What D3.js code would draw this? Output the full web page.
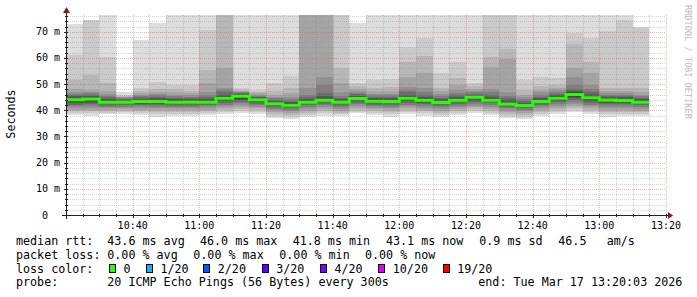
<!DOCTYPE html>
<html>
<head>
<meta charset="utf-8">
<script src="https://cdn.jsdelivr.net/npm/d3@7"></script>
<style>
  body { margin: 0; background: #fff; }
  svg { display: block; }
  text { font-family: "DejaVu Sans Mono", monospace; fill: #000; white-space: pre; }
</style>
</head>
<body>
<svg></svg>
<script>
// Time range (3 hours, 5 minute steps)
const startTime = new Date(2026, 2, 17, 10, 20);
const endTime = new Date(2026, 2, 17, 13, 20);

// Median rtt per 5 min step (ms)
const median = [44.0, 44.3, 43.1, 43.1, 43.4, 43.4, 43.1, 43.1, 43.1, 44.6,
  45.4, 44.0, 42.5, 41.9, 43.1, 43.8, 43.1, 44.5, 43.5, 43.4,
  44.6, 43.8, 43.0, 43.8, 45.0, 43.8, 42.4, 41.8, 43.4, 44.6,
  46.0, 44.8, 43.9, 43.7, 43.1];

// Sorted ping times per step (20 pings, ms)
const pings = [
  [38.2,38.9,39.6,40.3,40.9,41.5,42.1,42.7,43.2,43.7,44.3,44.8,45.3,45.9,46.4,47.0,48.2,51.4,61.0,72.9],
  [38.0,38.8,39.6,40.3,41.0,41.7,42.3,42.9,43.5,44.0,44.6,45.0,45.5,46.0,46.5,47.1,47.7,53.5,74.4,74.6],
  [38.4,39.0,39.6,40.2,40.8,41.3,41.8,42.3,42.7,42.9,43.3,43.8,44.3,44.9,45.5,46.2,47.5,50.4,60.3,78.0],
  [38.6,39.2,39.8,40.4,40.9,41.4,41.9,42.3,42.7,42.9,43.3,43.6,44.0,44.3,44.6,44.9,45.2,45.6,46.0,46.8],
  [38.3,39.0,39.7,40.3,40.9,41.5,42.0,42.5,42.9,43.2,43.6,44.0,44.5,45.0,45.5,46.0,46.6,47.3,48.4,66.8],
  [37.6,38.5,39.3,40.1,40.8,41.4,42.0,42.5,42.9,43.2,43.6,44.1,44.6,45.1,45.7,46.3,47.0,48.0,50.9,73.3],
  [38.0,38.7,39.4,40.1,40.7,41.3,41.8,42.3,42.7,42.9,43.3,43.8,44.3,44.8,45.4,46.0,46.8,48.0,49.5,78.0],
  [37.8,38.6,39.4,40.1,40.7,41.3,41.8,42.3,42.7,42.9,43.3,43.7,44.2,44.7,45.2,45.8,46.5,47.5,49.5,78.0],
  [38.2,38.9,39.6,40.3,40.9,41.5,42.0,42.4,42.8,42.9,43.3,43.8,44.4,45.0,45.7,47.0,50.4,55.4,70.6,78.0],
  [38.5,39.3,40.1,40.8,41.5,42.2,42.8,43.4,43.9,44.3,44.9,45.4,46.0,46.8,47.7,48.5,56.0,78.0,79.0,80.0],
  [39.0,39.8,40.6,41.3,42.0,42.7,43.3,43.9,44.5,45.1,45.7,46.0,46.3,46.6,46.9,47.1,47.4,47.8,48.5,78.0],
  [38.6,39.3,40.0,40.7,41.3,41.9,42.5,43.0,43.5,43.8,44.3,44.6,44.9,45.2,45.6,46.0,46.5,47.0,47.7,78.0],
  [37.2,37.9,38.6,39.3,40.0,40.6,41.2,41.7,42.1,42.3,42.8,43.2,43.6,44.1,44.6,45.2,46.0,47.5,50.3,78.0],
  [36.8,37.5,38.2,38.9,39.6,40.2,40.8,41.2,41.5,41.7,42.1,42.6,43.1,43.7,44.4,45.2,46.5,48.5,53.1,78.0],
  [37.4,38.2,39.0,39.8,40.6,41.3,41.9,42.4,42.8,43.0,43.4,43.8,44.3,44.9,45.8,48.4,77.5,78.5,79.5,80.5],
  [38.0,38.8,39.6,40.4,41.2,41.9,42.5,43.0,43.4,43.6,44.1,44.6,45.3,46.5,49.6,52.6,77.5,78.5,79.5,80.5],
  [37.7,38.4,39.1,39.8,40.5,41.2,41.8,42.3,42.7,42.9,43.3,43.7,44.2,44.8,45.6,46.8,50.3,56.0,78.0,80.0],
  [38.8,39.5,40.2,40.9,41.6,42.3,42.9,43.5,44.0,44.3,44.8,45.2,45.6,46.1,46.6,47.3,48.2,49.3,50.3,73.4],
  [38.3,39.0,39.7,40.4,41.0,41.6,42.2,42.7,43.1,43.3,43.8,44.2,44.6,45.1,45.7,46.4,47.3,48.5,51.5,78.0],
  [37.6,38.4,39.2,40.0,40.7,41.4,42.0,42.6,43.0,43.2,43.7,44.1,44.6,45.1,45.7,46.4,47.3,48.8,52.0,78.0],
  [38.5,39.3,40.1,40.8,41.5,42.2,42.9,43.5,44.0,44.4,44.9,45.4,46.0,46.8,47.7,49.0,52.8,58.5,64.0,78.0],
  [38.0,38.8,39.6,40.3,41.0,41.7,42.3,42.9,43.4,43.6,44.1,44.6,45.2,46.0,47.0,48.5,54.1,60.7,67.8,78.0],
  [37.5,38.3,39.1,39.8,40.5,41.2,41.8,42.3,42.7,42.9,43.3,43.7,44.2,44.8,45.5,46.3,47.3,48.6,54.1,78.0],
  [38.2,39.0,39.8,40.5,41.2,41.8,42.4,43.0,43.4,43.6,44.1,44.6,45.2,45.9,46.7,47.8,49.5,52.2,58.5,78.0],
  [39.0,39.7,40.4,41.1,41.8,42.5,43.1,43.7,44.3,44.8,45.3,45.6,46.0,46.4,46.9,47.5,48.3,49.2,50.3,78.0],
  [38.3,39.1,39.9,40.6,41.3,42.0,42.6,43.1,43.5,43.7,44.1,44.6,45.2,46.0,47.0,48.0,56.6,60.4,78.0,80.0],
  [37.0,37.8,38.6,39.4,40.1,40.8,41.4,41.9,42.2,42.3,42.7,43.2,43.8,44.6,45.6,47.0,59.5,63.3,78.0,80.0],
  [36.8,37.5,38.2,38.9,39.6,40.2,40.8,41.2,41.5,41.7,42.0,42.4,42.9,43.5,44.2,45.0,46.0,47.7,51.5,78.0],
  [37.8,38.6,39.4,40.1,40.8,41.5,42.1,42.7,43.1,43.3,43.7,44.1,44.6,45.2,45.9,46.8,47.8,49.2,52.8,78.0],
  [38.6,39.4,40.2,40.9,41.6,42.3,43.0,43.6,44.1,44.4,44.9,45.3,45.8,46.3,46.9,47.6,48.5,49.6,52.2,78.0],
  [39.2,40.0,40.8,41.6,42.4,43.2,43.9,44.6,45.2,45.7,46.3,46.8,47.5,48.3,49.5,52.8,56.0,65.5,69.4,78.0],
  [38.5,39.3,40.1,40.8,41.5,42.2,42.9,43.5,44.0,44.4,45.1,45.6,46.2,47.0,48.0,49.5,54.1,58.5,67.5,78.0],
  [37.6,38.4,39.2,40.0,40.8,41.6,42.3,42.9,43.4,43.7,44.2,44.6,45.0,45.5,46.0,46.6,47.4,48.4,70.4,78.0],
  [37.9,38.7,39.5,40.2,40.9,41.6,42.3,42.9,43.3,43.5,44.0,44.4,44.9,45.4,46.0,46.7,47.5,48.4,74.5,78.0],
  [37.8,38.5,39.2,39.9,40.6,41.3,41.9,42.4,42.8,43.0,43.4,43.8,44.2,44.7,45.3,46.0,47.0,48.4,71.5,71.9]
];

// Axis ticks
const yTicks = [0, 10, 20, 30, 40, 50, 60, 70];
const yTickLabels = ["0  ", "10 m", "20 m", "30 m", "40 m", "50 m", "60 m", "70 m"];
const yMax = 76.4;

// Legend texts
const rttStats = ["43.6 ms avg", "46.0 ms max", "41.8 ms min", "43.1 ms now", "0.9 ms sd", "46.5", "am/s"];
const lossStats = ["0.00 % avg", "0.00 % max", "0.00 % min", "0.00 % now"];
const lossLabels = ["0", "1/20", "2/20", "3/20", "4/20", "10/20", "19/20"];
const lossColors = ["#26ff00", "#00b8ff", "#0059ff", "#5e00ff", "#7e00ff", "#dd00ff", "#ff0000"];
const probeText = "20 ICMP Echo Pings (56 Bytes) every 300s";
const endText = "end: Tue Mar 17 13:20:03 2026";

// Dimensions
const width = 697, height = 297;
const plot = { left: 66, right: 666, top: 15, bottom: 215 };

const svg = d3.select("svg")
  .attr("width", width)
  .attr("height", height);

svg.append("rect").attr("width", width).attr("height", height).attr("fill", "#fff");

const x = d3.scaleTime().domain([startTime, endTime]).range([plot.left, plot.right]);
const y = d3.scaleLinear().domain([0, yMax]).range([plot.bottom, plot.top]);

svg.append("clipPath").attr("id", "clip")
  .append("rect")
  .attr("x", plot.left).attr("y", plot.top)
  .attr("width", plot.right - plot.left).attr("height", plot.bottom - plot.top);

const colStart = i => d3.timeMinute.offset(startTime, 5 * i);

// Smoke: outer pairs light, inner pairs dark (smokeping style)
const smoke = svg.append("g").attr("clip-path", "url(#clip)").attr("shape-rendering", "crispEdges");
for (let b = 0; b < 10; b++) {
  const c = Math.floor(19 * (9 - b)) + 50;
  const hex = "#" + d3.format("02x")(c).repeat(3);
  smoke.append("g").selectAll("rect")
    .data(pings)
    .join("rect")
    .attr("x", (d, i) => x(colStart(i)))
    .attr("width", (d, i) => x(colStart(i + 1)) - x(colStart(i)))
    .attr("y", d => y(d[19 - b]))
    .attr("height", d => y(d[b]) - y(d[19 - b]))
    .attr("fill", hex);
}

// Grid
const grid = svg.append("g").attr("shape-rendering", "crispEdges");
const minorY = d3.range(2, yMax, 2).filter(v => v % 10 !== 0);
const majorY = yTicks.filter(v => v > 0);
const minorX = d3.timeMinute.every(5).range(d3.timeMinute.offset(startTime, 5), d3.timeMinute.offset(endTime, 1))
  .filter(t => t.getMinutes() % 20 !== 0);
const majorX = d3.timeMinute.every(20).range(d3.timeMinute.offset(startTime, 5), d3.timeMinute.offset(endTime, 1));

grid.selectAll(".hmin").data(minorY).join("line")
  .attr("x1", plot.left).attr("x2", plot.right)
  .attr("y1", d => Math.round(y(d)) + 0.5).attr("y2", d => Math.round(y(d)) + 0.5)
  .attr("stroke", "#8c8c8c").attr("stroke-opacity", 0.38).attr("stroke-dasharray", "1,1");
grid.selectAll(".vmin").data(minorX).join("line")
  .attr("y1", plot.top).attr("y2", plot.bottom)
  .attr("x1", d => Math.round(x(d)) + 0.5).attr("x2", d => Math.round(x(d)) + 0.5)
  .attr("stroke", "#8c8c8c").attr("stroke-opacity", 0.38).attr("stroke-dasharray", "1,1");
grid.selectAll(".hmaj").data(majorY).join("line")
  .attr("x1", plot.left).attr("x2", plot.right)
  .attr("y1", d => Math.round(y(d)) + 0.5).attr("y2", d => Math.round(y(d)) + 0.5)
  .attr("stroke", "#c84040").attr("stroke-opacity", 0.38).attr("stroke-dasharray", "1,1");
grid.selectAll(".vmaj").data(majorX).join("line")
  .attr("y1", plot.top).attr("y2", plot.bottom)
  .attr("x1", d => Math.round(x(d)) + 0.5).attr("x2", d => Math.round(x(d)) + 0.5)
  .attr("stroke", "#c84040").attr("stroke-opacity", 0.38).attr("stroke-dasharray", "1,1");

// Median line (loss 0 colour)
const medianPts = median.flatMap((m, i) => [[colStart(i), m], [colStart(i + 1), m]]);
svg.append("path")
  .attr("clip-path", "url(#clip)")
  .attr("d", d3.line().x(d => x(d[0])).y(d => y(d[1]))(medianPts))
  .attr("fill", "none")
  .attr("stroke", lossColors[0])
  .attr("stroke-width", 3);

// Axes
const axes = svg.append("g").attr("shape-rendering", "crispEdges");
axes.append("line")
  .attr("x1", plot.left - 4).attr("x2", plot.right + 3)
  .attr("y1", plot.bottom + 0.5).attr("y2", plot.bottom + 0.5)
  .attr("stroke", "#222");
axes.append("line")
  .attr("x1", plot.left + 0.5).attr("x2", plot.left + 0.5)
  .attr("y1", plot.bottom + 4).attr("y2", plot.top - 3)
  .attr("stroke", "#222");

// tick marks
axes.selectAll(".ytick").data(d3.range(2, yMax, 2)).join("line")
  .attr("x1", d => d % 10 === 0 ? plot.left - 2 : plot.left - 1).attr("x2", plot.left + 2)
  .attr("y1", d => Math.round(y(d)) + 0.5).attr("y2", d => Math.round(y(d)) + 0.5)
  .attr("stroke", "#222");
axes.selectAll(".xtick").data(minorX.concat(majorX)).join("line")
  .attr("x1", d => Math.round(x(d)) + 0.5).attr("x2", d => Math.round(x(d)) + 0.5)
  .attr("y1", plot.bottom - 1).attr("y2", d => d.getMinutes() % 20 === 0 ? plot.bottom + 3 : plot.bottom + 2)
  .attr("stroke", "#222");

// arrows
svg.append("path")
  .attr("d", `M${plot.right + 2},${plot.bottom - 3} L${plot.right + 7},${plot.bottom + 0.5} L${plot.right + 2},${plot.bottom + 4} Z`)
  .attr("fill", "#8b1a1a");
svg.append("path")
  .attr("d", `M${plot.left - 3},${plot.top - 2} L${plot.left + 0.5},${plot.top - 8} L${plot.left + 4},${plot.top - 2} Z`)
  .attr("fill", "#8b1a1a");

// Tick labels
svg.append("g").selectAll("text")
  .data(yTicks)
  .join("text")
  .attr("x", 60)
  .attr("y", d => y(d) + 3.5)
  .attr("text-anchor", "end")
  .style("font-size", "10px")
  .text((d, i) => yTickLabels[i]);

svg.append("g").selectAll("text")
  .data(majorX)
  .join("text")
  .attr("x", d => x(d))
  .attr("y", 228.5)
  .attr("text-anchor", "middle")
  .style("font-size", "10px")
  .text(d => d3.timeFormat("%H:%M")(d));

// Axis title
svg.append("text")
  .attr("transform", "translate(15,114) rotate(-90)")
  .attr("text-anchor", "middle")
  .style("font-size", "11.7px")
  .text("Seconds");

// Watermark
svg.append("text")
  .attr("transform", "translate(685,5) rotate(90)")
  .style("font-size", "8.6px")
  .style("fill", "#bdbdbd")
  .text("RRDTOOL / TOBI OETIKER");

// Legend
const legend = svg.append("g").style("font-size", "11.7px");
const rowY = [245, 258.5, 272.5, 286];
const labelX = 16;

legend.append("text").attr("x", labelX).attr("y", rowY[0]).text("median rtt:");
const rttX = [107.3, 200, 292.7, 386, 479.3, 558.3, 606.7];
rttStats.forEach((s, i) => legend.append("text").attr("x", rttX[i]).attr("y", rowY[0]).text(s));

legend.append("text").attr("x", labelX).attr("y", rowY[1]).text("packet loss:");
const lossX = [107.3, 193.3, 279.3, 365];
lossStats.forEach((s, i) => legend.append("text").attr("x", lossX[i]).attr("y", rowY[1]).text(s));

legend.append("text").attr("x", labelX).attr("y", rowY[2]).text("loss color:");
const boxX = [109, 146, 203.3, 261.7, 320, 378.3, 442.7];
lossLabels.forEach((s, i) => {
  legend.append("rect")
    .attr("x", Math.round(boxX[i]) + 0.5).attr("y", 264.5)
    .attr("width", 6).attr("height", 8)
    .attr("fill", lossColors[i]).attr("stroke", "#000");
  legend.append("text").attr("x", boxX[i] + 14.5).attr("y", rowY[2]).text(s);
});

legend.append("text").attr("x", labelX).attr("y", rowY[3]).text("probe:");
legend.append("text").attr("x", 107.3).attr("y", rowY[3]).text(probeText);
legend.append("text").attr("x", 478.3).attr("y", rowY[3]).text(endText);
</script>
</body>
</html>
